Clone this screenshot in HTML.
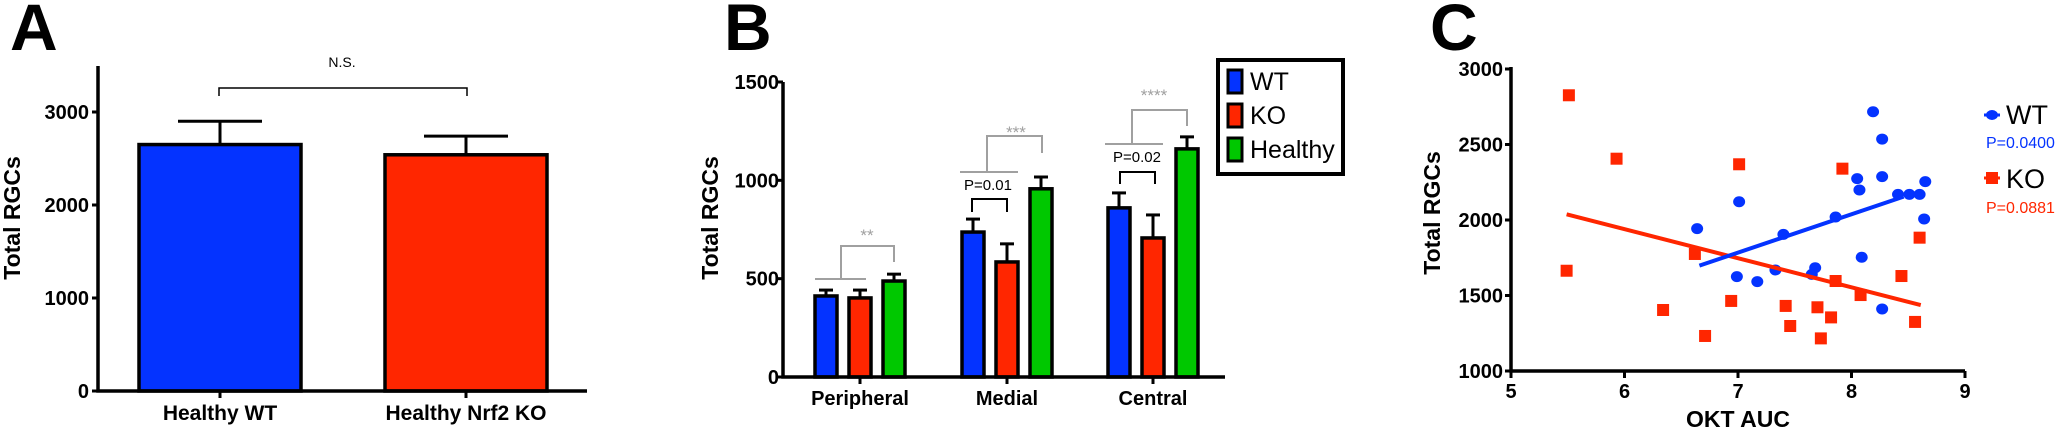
<!DOCTYPE html>
<html><head><meta charset="utf-8"><style>
html,body{margin:0;padding:0;background:#fff;}
svg{display:block;font-family:"Liberation Sans",Arial,sans-serif;}
</style></head><body>
<svg id="fig" width="2063" height="428" viewBox="0 0 2063 428" xmlns="http://www.w3.org/2000/svg">
<g id="pa"></g>
<g id="pb"></g>
<g id="pc"></g>
</svg>
<script>
// Panel A data
const aCats = ["Healthy WT", "Healthy Nrf2 KO"];
const aVals = [2650, 2540];
const aErr = [2900, 2740];
const aTicks = [0, 1000, 2000, 3000];
// Panel B data
const bGroups = ["Peripheral", "Medial", "Central"];
const bWT = [412, 737, 860];
const bKO = [402, 585, 707];
const bHealthy = [488, 957, 1160];
const bWTErr = [442, 803, 936];
const bKOErr = [442, 677, 824];
const bHealthyErr = [523, 1017, 1221];
const bTicks = [0, 500, 1000, 1500];
// Panel C data
const cWTx = [6.64,7.01,6.99,7.17,7.33,7.40,7.65,7.68,7.86,8.05,8.07,8.09,8.19,8.27,8.27,8.27,8.41,8.51,8.60,8.65,8.64];
const cWTy = [1943,2121,1625,1592,1669,1905,1640,1684,2020,2274,2199,1753,2717,2536,2287,1411,2170,2170,2170,2254,2007];
const cKOx = [5.51,5.49,5.93,6.34,6.62,6.71,7.01,6.94,7.42,7.46,7.70,7.73,7.82,7.86,7.92,8.08,8.44,8.56,8.60];
const cKOy = [2826,1664,2406,1404,1775,1232,2369,1464,1431,1298,1422,1216,1355,1596,2340,1503,1629,1325,1883];
const cWTfit = [254, 6];      // slope, intercept
const cKOfit = [-192.6, 3095];
const cWTfitRange = [6.66, 8.46];
const cKOfitRange = [5.49, 8.61];
const cXTicks = [5, 6, 7, 8, 9];
const cYTicks = [1000, 1500, 2000, 2500, 3000];

const NS = "http://www.w3.org/2000/svg";
function mk(parent, tag, attrs, text) {
  const e = document.createElementNS(NS, tag);
  for (const k in attrs) e.setAttribute(k, attrs[k]);
  if (text !== undefined) e.textContent = text;
  parent.appendChild(e);
  return e;
}
const BLUE = "#0433ff", RED = "#ff2600", GREEN = "#00c800", GRAY = "#a0a0a0";

// ---------- Panel A ----------
(function(){
  const g = document.getElementById('pa');
  const y0 = 391, pxPer = (391 - 112) / 3000;
  const ya = v => y0 - v * pxPer;
  const xc = [220, 466];
  let t = mk(g, 'text', {x: 10, y: 50, 'font-size': 66, 'font-weight': 'bold'}, 'A');
   
  t = mk(g, 'text', {x: 0, y: 0, 'font-size': 23, 'font-weight': 'bold', 'text-anchor': 'middle', transform: 'translate(20,218) rotate(-90)'}, 'Total RGCs');
   
  aVals.forEach((v, i) => {
    const col = i === 0 ? BLUE : RED;
    let l = mk(g, 'line', {x1: xc[i], x2: xc[i], y1: ya(v), y2: ya(aErr[i]), stroke: '#000', 'stroke-width': 3});
     
    l = mk(g, 'line', {x1: xc[i] - 42, x2: xc[i] + 42, y1: ya(aErr[i]), y2: ya(aErr[i]), stroke: '#000', 'stroke-width': 3});
     
    const r = mk(g, 'rect', {x: xc[i] - 81, y: ya(v), width: 162, height: y0 - ya(v), fill: col, stroke: '#000', 'stroke-width': 3.5});
     
    const lab = mk(g, 'text', {x: xc[i], y: 420, 'font-size': 21, 'font-weight': 'bold', 'text-anchor': 'middle'}, aCats[i]);
     
    mk(g, 'line', {x1: xc[i], x2: xc[i], y1: y0, y2: y0 + 7, stroke: '#000', 'stroke-width': 3});
  });
  let ax = mk(g, 'path', {d: `M98 66 V${y0} H587`, fill: 'none', stroke: '#000', 'stroke-width': 3.5});
   
  aTicks.forEach(v => {
    mk(g, 'line', {x1: 92, x2: 98, y1: ya(v), y2: ya(v), stroke: '#000', 'stroke-width': 3});
    const tl = mk(g, 'text', {x: 89, y: ya(v) + 7, 'font-size': 20, 'font-weight': 'bold', 'text-anchor': 'end'}, v);
     
  });
  let br = mk(g, 'path', {d: 'M219 96 V88 H467 V96', fill: 'none', stroke: '#000', 'stroke-width': 1.5});
   
  t = mk(g, 'text', {x: 342, y: 67, 'font-size': 14, 'text-anchor': 'middle'}, 'N.S.');
   
})();

// ---------- Panel B ----------
(function(){
  const g = document.getElementById('pb');
  const y0 = 377, pxPer = (377 - 82) / 1500;
  const yb = v => y0 - v * pxPer;
  const centers = [860, 1007, 1153];
  const off = [-34, 0, 34];
  const series = [[bWT, bWTErr, BLUE, 'wt'], [bKO, bKOErr, RED, 'ko'], [bHealthy, bHealthyErr, GREEN, 'healthy']];
  let t = mk(g, 'text', {x: 724, y: 50, 'font-size': 66, 'font-weight': 'bold'}, 'B');
   
  t = mk(g, 'text', {x: 0, y: 0, 'font-size': 23, 'font-weight': 'bold', 'text-anchor': 'middle', transform: 'translate(718,218) rotate(-90)'}, 'Total RGCs');
   
  bGroups.forEach((gname, gi) => {
    series.forEach((s, si) => {
      const x = centers[gi] + off[si], v = s[0][gi], e = s[1][gi];
      let l = mk(g, 'line', {x1: x, x2: x, y1: yb(v), y2: yb(e), stroke: '#000', 'stroke-width': 3});
       
      l = mk(g, 'line', {x1: x - 7, x2: x + 7, y1: yb(e), y2: yb(e), stroke: '#000', 'stroke-width': 3});
       
      const r = mk(g, 'rect', {x: x - 11, y: yb(v), width: 22, height: y0 - yb(v), fill: s[2], stroke: '#000', 'stroke-width': 3.5});
       
    });
    mk(g, 'line', {x1: centers[gi], x2: centers[gi], y1: y0, y2: y0 + 7, stroke: '#000', 'stroke-width': 3});
    const lab = mk(g, 'text', {x: centers[gi], y: 405, 'font-size': 20, 'font-weight': 'bold', 'text-anchor': 'middle'}, gname);
     
  });
  let ax = mk(g, 'path', {d: `M783 82 V${y0} H1225`, fill: 'none', stroke: '#000', 'stroke-width': 3.5});
   
  bTicks.forEach(v => {
    mk(g, 'line', {x1: 777, x2: 783, y1: yb(v), y2: yb(v), stroke: '#000', 'stroke-width': 3});
    const tl = mk(g, 'text', {x: 779, y: yb(v) + 7, 'font-size': 20, 'font-weight': 'bold', 'text-anchor': 'end'}, v);
     
  });
  // gray brackets
  const gb = [
    ['M815 279 H866 M841 279 V246 H894 V262', 867, 233, '**'],
    ['M960 172 H1018 M987 172 V136 H1042 V153', 1016, 130, '***'],
    ['M1105 144 H1163 M1132 144 V110 H1187 V126', 1154, 93, '****']
  ];
  gb.forEach(b => {
    const p = mk(g, 'path', {d: b[0], fill: 'none', stroke: GRAY, 'stroke-width': 2});
     
    const s = mk(g, 'text', {x: b[1], y: b[2] + 8, 'font-size': 17, fill: GRAY, 'text-anchor': 'middle'}, b[3]);
     
  });
  const pb = [['M972 212 V199 H1007 V212', 988, 190, 'P=0.01'], ['M1120 184 V172 H1155 V184', 1137, 162, 'P=0.02']];
  pb.forEach(b => {
    const p = mk(g, 'path', {d: b[0], fill: 'none', stroke: '#000', 'stroke-width': 2});
     
    const s = mk(g, 'text', {x: b[1], y: b[2], 'font-size': 15, 'text-anchor': 'middle'}, b[3]);
     
  });
  // legend
  const lg = mk(g, 'g', {});
   
  mk(lg, 'rect', {x: 1218, y: 60, width: 125, height: 114, fill: '#fff', stroke: '#000', 'stroke-width': 4});
  [['WT', BLUE, 70], ['KO', RED, 104], ['Healthy', GREEN, 138]].forEach(e => {
    const r = mk(lg, 'rect', {x: 1228, y: e[2], width: 14, height: 23, fill: e[1], stroke: '#000', 'stroke-width': 3});
     
    const s = mk(lg, 'text', {x: 1250, y: e[2] + 20, 'font-size': 25}, e[0]);
     
  });
})();

// ---------- Panel C ----------
(function(){
  const g = document.getElementById('pc');
  const xs = v => 1511 + (v - 5) * 113.5;
  const ys = v => 371 - (v - 1000) * (302 / 2000);
  let t = mk(g, 'text', {x: 1430, y: 50, 'font-size': 66, 'font-weight': 'bold'}, 'C');
   
  t = mk(g, 'text', {x: 0, y: 0, 'font-size': 23, 'font-weight': 'bold', 'text-anchor': 'middle', transform: 'translate(1440,213) rotate(-90)'}, 'Total RGCs');
   
  t = mk(g, 'text', {x: 1738, y: 427, 'font-size': 23, 'font-weight': 'bold', 'text-anchor': 'middle'}, 'OKT AUC');
   
  let ax = mk(g, 'path', {d: `M1511 67 V371 H${xs(9)}`, fill: 'none', stroke: '#000', 'stroke-width': 3.5});
   
  cXTicks.forEach(v => {
    mk(g, 'line', {x1: xs(v), x2: xs(v), y1: 371, y2: 378, stroke: '#000', 'stroke-width': 3});
    const tl = mk(g, 'text', {x: xs(v), y: 398, 'font-size': 20, 'font-weight': 'bold', 'text-anchor': 'middle'}, v);
     
  });
  cYTicks.forEach(v => {
    mk(g, 'line', {x1: 1505, x2: 1511, y1: ys(v), y2: ys(v), stroke: '#000', 'stroke-width': 3});
    const tl = mk(g, 'text', {x: 1503, y: ys(v) + 7, 'font-size': 20, 'font-weight': 'bold', 'text-anchor': 'end'}, v);
     
  });
  cKOx.forEach((x, i) => {
    const r = mk(g, 'rect', {x: xs(x) - 6, y: ys(cKOy[i]) - 6, width: 12, height: 12, fill: RED});
     
  });
  cWTx.forEach((x, i) => {
    const c = mk(g, 'ellipse', {cx: xs(x), cy: ys(cWTy[i]), rx: 6, ry: 5.5, fill: BLUE});
     
  });
  const fit = (f, r, col, name) => {
    const l = mk(g, 'line', {x1: xs(r[0]), y1: ys(f[0] * r[0] + f[1]), x2: xs(r[1]), y2: ys(f[0] * r[1] + f[1]), stroke: col, 'stroke-width': 4});
     
  };
  fit(cKOfit, cKOfitRange, RED, 'ko-regression-line');
  fit(cWTfit, cWTfitRange, BLUE, 'wt-regression-line');
  // legend
  const lg = mk(g, 'g', {});
   
  mk(lg, 'line', {x1: 1984, x2: 2000, y1: 115, y2: 115, stroke: BLUE, 'stroke-width': 3});
  mk(lg, 'ellipse', {cx: 1992, cy: 115, rx: 6, ry: 5, fill: BLUE});
  let s = mk(lg, 'text', {x: 2006, y: 124, 'font-size': 27}, 'WT');
   
  s = mk(lg, 'text', {x: 1986, y: 148, 'font-size': 16, fill: BLUE}, 'P=0.0400');
   
  mk(lg, 'line', {x1: 1984, x2: 2000, y1: 178, y2: 178, stroke: RED, 'stroke-width': 3});
  mk(lg, 'rect', {x: 1986, y: 172, width: 12, height: 12, fill: RED});
  s = mk(lg, 'text', {x: 2006, y: 188, 'font-size': 27}, 'KO');
   
  s = mk(lg, 'text', {x: 1986, y: 213, 'font-size': 16, fill: RED}, 'P=0.0881');
   
})();
</script>
</body></html>
